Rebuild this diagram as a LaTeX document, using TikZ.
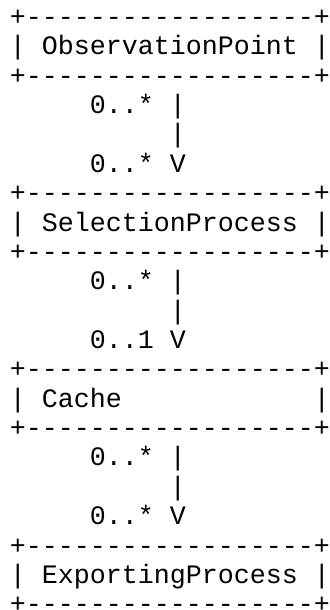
\documentclass[tikz,border=0pt]{standalone}
\usepackage{fontspec}
\newfontfamily\asciifont{Liberation Mono}[Ligatures=TeXOff]
\begin{document}
\begin{tikzpicture}[x=8pt, y=-14.68pt,
    ascii/.style={font={\asciifont\fontsize{13.33pt}{14.68pt}\selectfont},
        anchor=base west, inner sep=0pt, outer sep=0pt},
    rule/.style={ascii}]

    %% Information model, one line of text per row

    % Page
    \useasboundingbox (-0.625,-0.87) rectangle (20,19.907);

    % ObservationPoint
    \node[rule]  (obs-top) at (0,0) {+------------------+};
    \node[ascii] (obs)     at (0,1) {| ObservationPoint |};
    \node[rule]  (obs-bot) at (0,2) {+------------------+};

    % ObservationPoint to SelectionProcess
    \node[ascii] (obs-sel-a) at (5,3)  {0..* |};
    \node[ascii] (obs-sel-b) at (10,4) {|};
    \node[ascii] (obs-sel-c) at (5,5)  {0..* V};

    % SelectionProcess
    \node[rule]  (sel-top) at (0,6) {+------------------+};
    \node[ascii] (sel)     at (0,7) {| SelectionProcess |};
    \node[rule]  (sel-bot) at (0,8) {+------------------+};

    % SelectionProcess to Cache
    \node[ascii] (sel-cache-a) at (5,9)   {0..* |};
    \node[ascii] (sel-cache-b) at (10,10) {|};
    \node[ascii] (sel-cache-c) at (5,11)  {0..1 V};

    % Cache
    \node[rule]  (cache-top)   at (0,12)  {+------------------+};
    \node[ascii] (cache)       at (0,13)  {| Cache};
    \node[ascii] (cache-right) at (19,13) {|};
    \node[rule]  (cache-bot)   at (0,14)  {+------------------+};

    % Cache to ExportingProcess
    \node[ascii] (cache-exp-a) at (5,15)  {0..* |};
    \node[ascii] (cache-exp-b) at (10,16) {|};
    \node[ascii] (cache-exp-c) at (5,17)  {0..* V};

    % ExportingProcess
    \node[rule]  (exp-top) at (0,18) {+------------------+};
    \node[ascii] (exp)     at (0,19) {| ExportingProcess |};
    \node[rule]  (exp-bot) at (0,20) {+------------------+};

\end{tikzpicture}
\end{document}
